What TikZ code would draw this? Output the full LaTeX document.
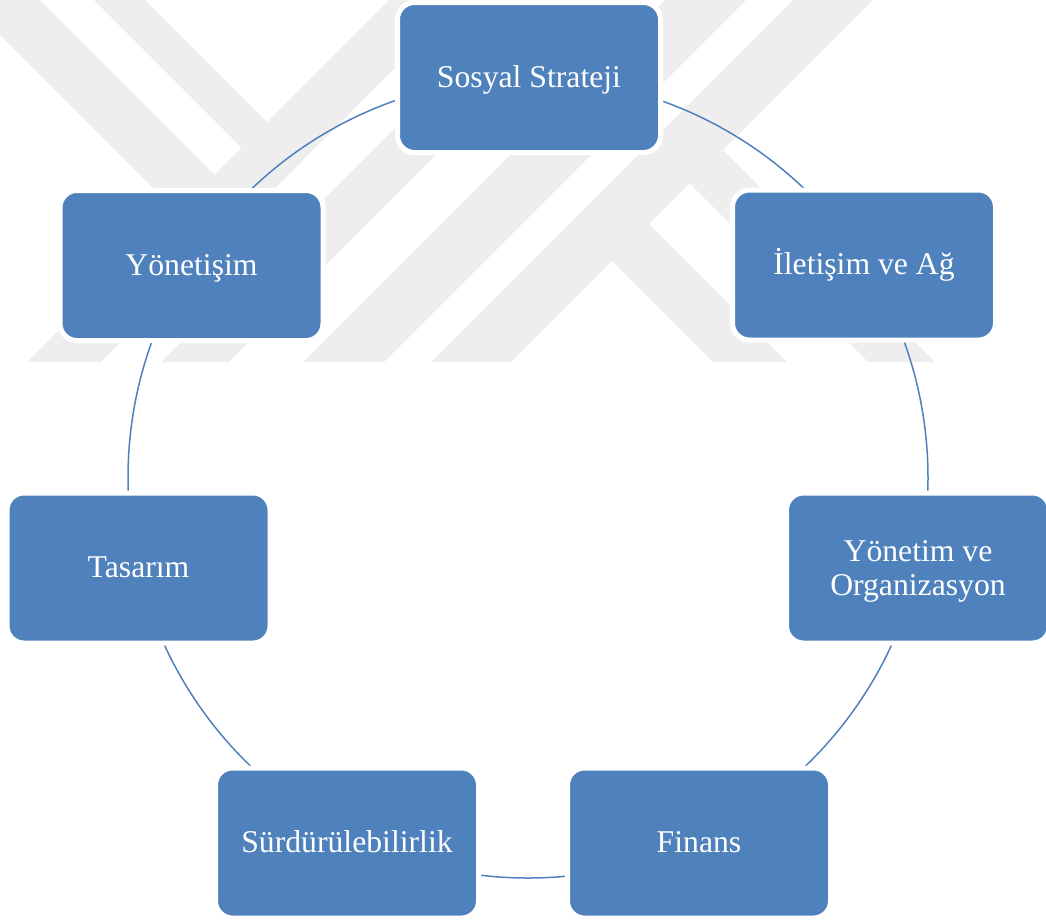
\documentclass[tikz,border=0pt]{standalone}
\usepackage{fontspec}
\setmainfont{Liberation Serif}
\definecolor{boxblue}{RGB}{79,129,189}
\definecolor{markgray}{RGB}{238,238,238}
\begin{document}
\begin{tikzpicture}[x=1pt,y=-1pt,
  stage/.style={rectangle, rounded corners=17pt, fill=boxblue, draw=white,
    line width=5pt, minimum width=263pt, minimum height=150pt, inner sep=0pt,
    text=white, font=\fontsize{31.7}{33.5}\selectfont, align=center},
  oneline/.style={text height=26pt, text depth=7pt},
  ring/.style={draw=boxblue, line width=1.5pt},
  band/.style={fill=markgray}]
\useasboundingbox (0,0) rectangle (1046,919);

% faint striped emblem in the background
\begin{scope}
  \clip (0,0) rectangle (1046,362);
  % rising stripes
  \fill[band] (27,362) -- (101,362) -- (463,0) -- (389,0) -- cycle;
  \fill[band] (161,362) -- (229,362) -- (591,0) -- (523,0) -- cycle;
  \fill[band] (303,362) -- (384,362) -- (746,0) -- (665,0) -- cycle;
  \fill[band] (431,362) -- (511,362) -- (873,0) -- (793,0) -- cycle;
  % falling stripes joining them
  \fill[band] (94,0) -- (145,0) -- (304,159) -- (278.5,184.5) -- cycle;
  \fill[band] (-35,0) -- (40,0) -- (251.5,211.5) -- (214,249) -- cycle;
  \fill[band] (713,362) -- (787,362) -- (609,184) -- (572,221) -- cycle;
  \fill[band] (868,362) -- (935,362) -- (683,110) -- (649.5,143.5) -- cycle;
\end{scope}

% cycle ring behind the stages
\coordinate (hub) at (528,478);
\draw[ring] (hub) circle[radius=400pt];

% stages
\node[stage, oneline] (sosyal)   at (529,77.5)  {Sosyal Strateji};
\node[stage, oneline] (iletisim) at (864,265)   {İletişim ve Ağ};
\node[stage]          (yonetim)  at (918,568)   {\rule{0pt}{28pt}Yönetim ve\\Organizasyon};
\node[stage, oneline] (finans)   at (699,843)   {Finans};
\node[stage, oneline] (surdur)   at (347,843)   {Sürdürülebilirlik};
\node[stage, oneline] (tasarim)  at (138.5,568) {Tasarım};
\node[stage, oneline] (yonetis)  at (191.5,265.5) {Yönetişim};
\end{tikzpicture}
\end{document}
